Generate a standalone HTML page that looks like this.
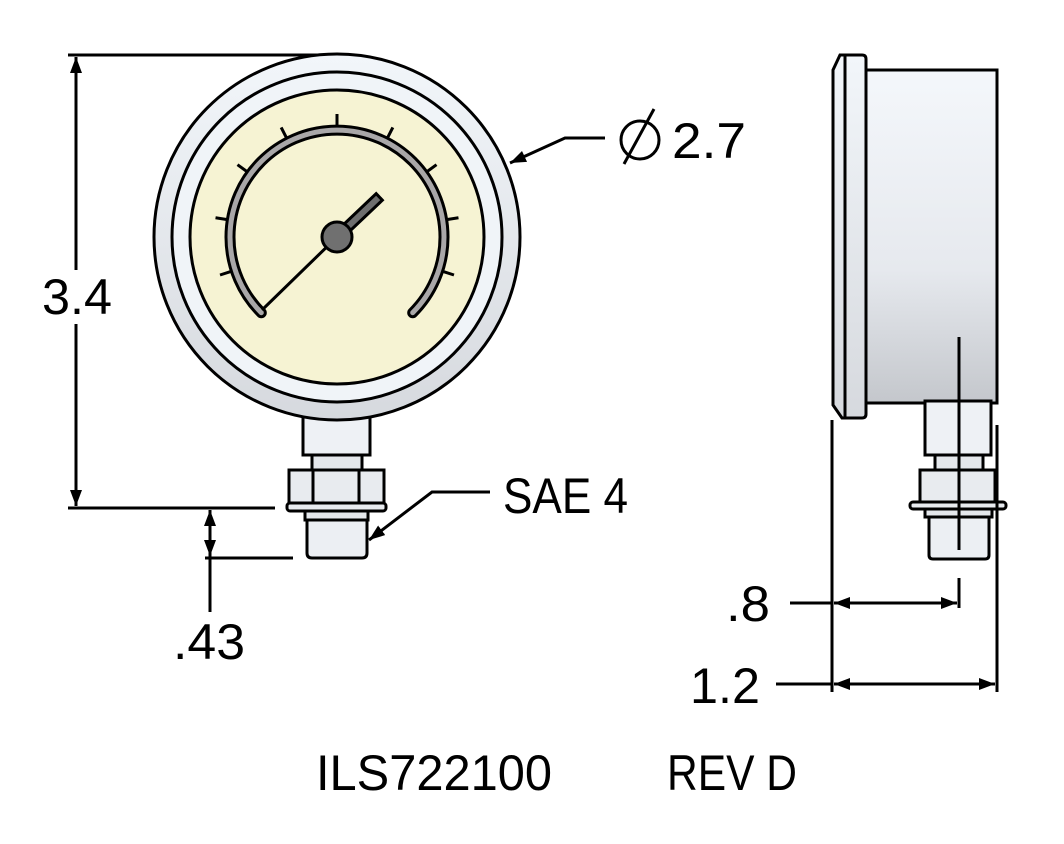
<!DOCTYPE html>
<html><head><meta charset="utf-8"><style>html,body{margin:0;padding:0;background:#fff}svg{display:block}</style></head><body>
<svg width="1064" height="844" viewBox="0 0 1064 844" xmlns="http://www.w3.org/2000/svg" font-family="Liberation Sans, sans-serif">
<defs>
<linearGradient id="body" x1="0" y1="0" x2="0" y2="1"><stop offset="0" stop-color="#f4f7fb"/><stop offset="0.6" stop-color="#e6e9ee"/><stop offset="1" stop-color="#c4c7cc"/></linearGradient>
<linearGradient id="ring" x1="0" y1="0" x2="0" y2="1"><stop offset="0" stop-color="#f2f6fa"/><stop offset="1" stop-color="#d6d9de"/></linearGradient>
<marker id="ar" viewBox="0 0 16 12" refX="16" refY="6" markerWidth="16" markerHeight="12" markerUnits="userSpaceOnUse" orient="auto"><path d="M0,0 L16,6 L0,12 z" fill="#000"/></marker>
<marker id="al" viewBox="0 0 16 12" refX="0" refY="6" markerWidth="16" markerHeight="12" markerUnits="userSpaceOnUse" orient="auto"><path d="M16,0 L0,6 L16,12 z" fill="#000"/></marker>
</defs>
<g stroke="#000" stroke-width="3" fill="none">
<!-- dimension 3.4 -->
<line x1="68" y1="55" x2="337" y2="55"/>
<line x1="68" y1="508" x2="275" y2="508"/>
<line x1="76" y1="57" x2="76" y2="506" marker-start="url(#al)" marker-end="url(#ar)"/>
<!-- .43 -->
<line x1="205" y1="558" x2="293" y2="558"/>
<line x1="210" y1="510" x2="210" y2="556" marker-start="url(#al)" marker-end="url(#ar)"/>
<line x1="210" y1="556" x2="210" y2="612"/>
</g>
<rect x="40" y="270" width="72" height="54" fill="#fff"/>
<!-- front gauge -->
<g stroke="#000" stroke-width="3">
<rect x="303" y="412" width="67" height="43" fill="#eef1f5"/>
<rect x="312" y="455" width="50" height="15" fill="#e4e7eb"/>
<rect x="289" y="470" width="95" height="33" fill="#e8ebef"/>
<line x1="313" y1="470" x2="313" y2="503"/><line x1="359" y1="470" x2="359" y2="503"/>
<rect x="287" y="503" width="99" height="8" rx="3" fill="#e8ebef"/>
<rect x="305" y="511" width="63" height="9" fill="#e4e7eb"/>
<path d="M307,520 H367 V553 Q367,558 362,558 H312 Q307,558 307,553 Z" fill="#eceff3"/>
<circle cx="337" cy="237" r="183" fill="url(#ring)"/>
<circle cx="337" cy="237" r="165" fill="#f0f4f8"/>
<circle cx="337" cy="237" r="147" fill="#f6f3d3"/>
</g>
<!-- arc -->
<path d="M261.3,312.7 A107,107 0 1 1 412.7,312.7" fill="none" stroke="#000" stroke-width="11" stroke-linecap="round"/>
<path d="M261.3,312.7 A107,107 0 1 1 412.7,312.7" fill="none" stroke="#a9a7a8" stroke-width="5" stroke-linecap="round"/>
<g stroke="#000" stroke-width="3" id="ticks">
<line x1="337" y1="126" x2="337" y2="114"/>
<line x1="337" y1="126" x2="337" y2="114" transform="rotate(-27 337 237)"/>
<line x1="337" y1="126" x2="337" y2="114" transform="rotate(-54 337 237)"/>
<line x1="337" y1="126" x2="337" y2="114" transform="rotate(-81 337 237)"/>
<line x1="337" y1="126" x2="337" y2="114" transform="rotate(-108 337 237)"/>
<line x1="337" y1="126" x2="337" y2="114" transform="rotate(27 337 237)"/>
<line x1="337" y1="126" x2="337" y2="114" transform="rotate(54 337 237)"/>
<line x1="337" y1="126" x2="337" y2="114" transform="rotate(81 337 237)"/>
<line x1="337" y1="126" x2="337" y2="114" transform="rotate(108 337 237)"/>
</g>
<line x1="337" y1="237" x2="262" y2="310" stroke="#000" stroke-width="3"/>
<line x1="337" y1="237" x2="376" y2="200" stroke="#000" stroke-width="12" stroke-linecap="square"/>
<line x1="337" y1="237" x2="376" y2="200" stroke="#6e6e6e" stroke-width="6" stroke-linecap="square"/>
<circle cx="337" cy="237" r="15" fill="#707070" stroke="#000" stroke-width="3"/>
<!-- side view -->
<g stroke="#000" stroke-width="3">
<rect x="866" y="70" width="131" height="333" fill="url(#body)"/>
<path d="M840,55 H862 Q866,55 866,59 V414 Q866,418 862,418 H842 L833,405 V70 Z" fill="url(#ring)"/>
<line x1="845" y1="56" x2="845" y2="417"/>
<rect x="925" y="401" width="66" height="54" fill="#eef1f5"/>
<rect x="935" y="455" width="48" height="15" fill="#e4e7eb"/>
<rect x="920" y="470" width="75" height="32" fill="#e8ebef"/>
<rect x="910" y="502" width="96" height="7" rx="3" fill="#e8ebef"/>
<rect x="925" y="509" width="67" height="8" fill="#e4e7eb"/>
<path d="M929,517 H989 V555 Q989,559 985,559 H933 Q929,559 929,555 Z" fill="#eceff3"/>
</g>
<g stroke="#000" stroke-width="3" fill="none">
<line x1="959" y1="337" x2="959" y2="550"/>
<line x1="832" y1="420" x2="832" y2="692"/>
<line x1="997" y1="425" x2="997" y2="692"/>
<line x1="959" y1="578" x2="959" y2="608"/>
<line x1="790" y1="603" x2="832" y2="603"/>
<line x1="834" y1="603" x2="957" y2="603" marker-start="url(#al)" marker-end="url(#ar)"/>
<line x1="776" y1="684" x2="832" y2="684"/>
<line x1="834" y1="684" x2="995" y2="684" marker-start="url(#al)" marker-end="url(#ar)"/>
<!-- leaders -->
<polyline points="605,138 565,138 510,163" marker-end="url(#ar)"/>
<polyline points="490,492 432,492 369,540" marker-end="url(#ar)"/>
<!-- diameter symbol -->
<circle cx="640" cy="140" r="19"/>
<line x1="654" y1="109" x2="624" y2="164"/>
</g>
<g font-size="50" fill="#000">
<text x="42" y="314" textLength="70" lengthAdjust="spacingAndGlyphs">3.4</text>
<text x="672" y="158" textLength="74" lengthAdjust="spacingAndGlyphs">2.7</text>
<text x="503" y="513" textLength="125" lengthAdjust="spacingAndGlyphs">SAE 4</text>
<text x="173" y="659" textLength="72" lengthAdjust="spacingAndGlyphs">.43</text>
<text x="726" y="621" textLength="44" lengthAdjust="spacingAndGlyphs">.8</text>
<text x="690" y="703" textLength="70" lengthAdjust="spacingAndGlyphs">1.2</text>
<text x="316" y="790" textLength="236" lengthAdjust="spacingAndGlyphs">ILS722100</text>
<text x="667" y="790" textLength="130" lengthAdjust="spacingAndGlyphs">REV D</text>
</g>
</svg>
</body></html>
